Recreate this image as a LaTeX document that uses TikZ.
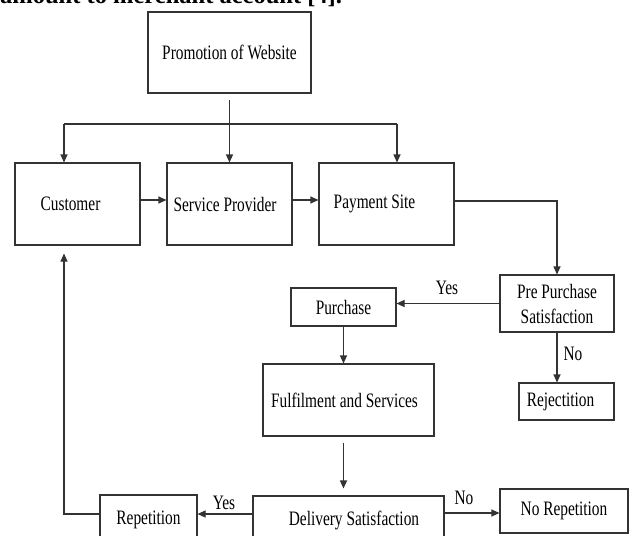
\documentclass[tikz,border=0pt]{standalone}
\usepackage{fontspec}
\setmainfont[FakeStretch=0.75]{Liberation Serif}
\newfontfamily\bodyfont{Liberation Serif}
\usetikzlibrary{arrows.meta}
\tikzset{
  box/.style={draw=black!80, line width=1.1pt, inner sep=0pt, align=center,
              font=\fontsize{20.5}{25}\selectfont},
  conn/.style={draw=black!80, line width=1.1pt},
  arr/.style={conn, -{Triangle[length=8pt,width=7pt]}},
  lbl/.style={font=\fontsize{20.5}{25}\selectfont, inner sep=0pt},
}
\begin{document}
\begin{tikzpicture}[x=1pt,y=-1pt]
\useasboundingbox (0,0) rectangle (630,536);
\clip (0,0) rectangle (630,536);
\fill[white] (0,0) rectangle (630,536);

% cut-off line of the preceding paragraph
\node[anchor=base west, inner sep=0pt, font=\bodyfont\bfseries\fontsize{24.5}{28}\selectfont] (para) at (0,3.5) {amount to merchant account [4].};

% boxes
\node[box, minimum width=163pt, minimum height=81pt] (prom) at (229.5,52.5) {Promotion of Website};
\node[box, minimum width=125pt, minimum height=82pt] (cust) at (77.5,204) {Customer\hspace{14pt}\raisebox{8pt}{}};
\node[box, minimum width=125pt, minimum height=82pt] (sp) at (229.5,204) {Service Provider\hspace{9pt}};
\node[box, minimum width=135pt, minimum height=82pt] (ps) at (386.5,204) {Payment Site\hspace{24pt}\raisebox{12pt}{}};
\node[box, minimum width=114pt, minimum height=57pt] (pp) at (557,303.5) {Pre Purchase\\Satisfaction};
\node[box, minimum width=105pt, minimum height=38pt] (pur) at (343.5,307) {Purchase};
\node[box, minimum width=171pt, minimum height=72pt] (ful) at (348.5,400) {Fulfilment and Services\hspace{8pt}};
\node[box, minimum width=95pt, minimum height=37pt] (rej) at (566.5,401.5) {Rejectition\hspace{12pt}};
\node[box, minimum width=97pt, minimum height=50pt] (rep) at (148.5,520) {Repetition};
\node[box, minimum width=191pt, minimum height=48pt] (del) at (348.5,520) {\hspace{11pt}Delivery Satisfaction};
\node[box, minimum width=128pt, minimum height=44pt] (norep) at (564,511) {No Repetition};

% distribution from the top box
\coordinate (hl) at (64,124);
\coordinate (hr) at (397,124);
\draw[conn] (hl) -- (hr);
\draw[arr, shorten <=6pt] (prom.south) -- (prom.south |- sp.north);
\draw[arr] (hl) -- (hl |- cust.north);
\draw[arr] (hr) -- (hr |- ps.north);

% row of boxes
\draw[arr] ([yshift=4pt]cust.east) -- ([yshift=4pt]sp.west);
\draw[arr] ([yshift=4pt]sp.east) -- ([yshift=4pt]ps.west);
\draw[arr] ([yshift=3pt]ps.east) -| (pp.north);

% pre purchase decision
\draw[arr] (pp.west) -- (pp.west -| pur.east);
\node[lbl] (yes1) at (447,288) {Yes};
\draw[arr] (pp.south) -- (pp.south |- rej.north);
\node[lbl] (no1) at (573,354) {No};

% purchase chain
\draw[arr] (pur.south) -- (pur.south |- ful.north);
\draw[arr, shorten <=6pt, shorten >=7pt] ([xshift=-5pt]ful.south) -- ([xshift=-5pt]ful.south |- del.north);

% delivery decision
\draw[arr] ([yshift=6pt]del.west) -- ([yshift=6pt]rep.east);
\node[lbl] (yes2) at (224,503) {Yes};
\draw[arr] ([yshift=7pt]del.east) -- ([yshift=7pt]del.east -| norep.west);
\node[lbl] (no2) at (464,498) {No};

% feedback loop
\draw[arr, shorten >=8pt] ([yshift=6pt]rep.west) -| ([xshift=-13.5pt]cust.south);
\end{tikzpicture}
\end{document}
